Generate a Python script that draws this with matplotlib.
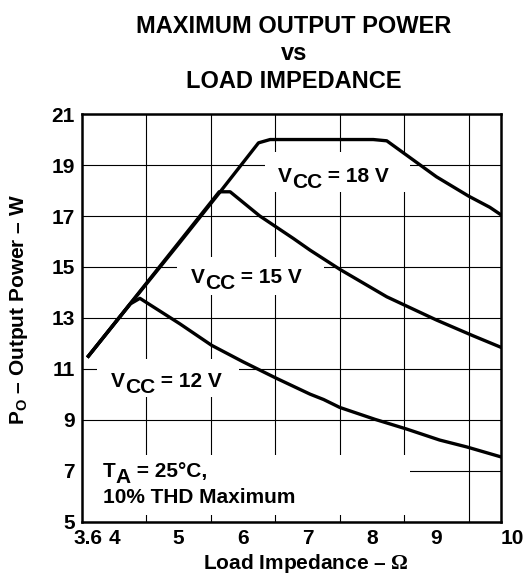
import numpy as np
import matplotlib
matplotlib.use('Agg')
import matplotlib.pyplot as plt
from matplotlib.patches import Rectangle

plt.rcParams['font.family'] = 'Liberation Sans'
plt.rcParams['font.weight'] = 'bold'
plt.rcParams['axes.labelweight'] = 'bold'
plt.rcParams['mathtext.fontset'] = 'custom'
plt.rcParams['mathtext.rm'] = 'Liberation Serif'
plt.rcParams['mathtext.bf'] = 'Liberation Sans:bold'

# maximum output power (W) vs load impedance (ohm), 10% THD
r_18v = [3.6, 4.25, 5.0, 5.63, 6.24, 6.42, 8.02, 8.23, 9.0, 9.5, 9.83, 10.0]
p_18v = [11.5, 13.55, 15.9, 17.9, 19.87, 20.0, 20.0, 19.95, 18.54, 17.78, 17.34, 17.05]

r_15v = [3.6, 5.63, 5.80, 6.26, 6.78, 7.04, 7.50, 8.23, 9.0, 9.57, 10.0]
p_15v = [11.5, 17.95, 17.95, 17.0, 16.12, 15.66, 14.91, 13.83, 12.92, 12.3, 11.85]

r_12v = [3.6, 4.25, 4.40, 5.02, 5.51, 6.0, 6.52, 7.04, 7.25, 7.50, 8.05, 8.54, 9.05, 9.47, 10.0]
p_12v = [11.5, 13.55, 13.77, 12.77, 11.93, 11.28, 10.63, 10.01, 9.80, 9.49, 9.02, 8.64, 8.21, 7.94, 7.55]

x_ticks = [3.6, 4, 5, 6, 7, 8, 9, 10]
x_tick_labels = ['3.6', '4', '5', '6', '7', '8', '9', '10']
y_ticks = [5, 7, 9, 11, 13, 15, 17, 19, 21]

fig = plt.figure(figsize=(5.25, 5.76), dpi=100)
ax = fig.add_axes([0.156, 0.094, 0.798, 0.708])

for r, p in [(r_18v, p_18v), (r_15v, p_15v), (r_12v, p_12v)]:
    ax.plot(r, p, color='black', lw=2.4, zorder=3, solid_joinstyle='round')

ax.set_xlim(3.5, 10)
ax.set_ylim(5, 21)
ax.set_xticks(x_ticks)
ax.set_xticklabels(x_tick_labels)
ax.get_xticklabels()[-1].set_ha('left')
ax.set_xticks(np.arange(4, 10.01, 0.5), minor=True)
ax.set_yticks(y_ticks)
ax.tick_params(which='both', length=0, labelsize=15, pad=5)

ax.set_axisbelow(True)
ax.grid(which='minor', axis='x', color='black', lw=0.8)
ax.grid(which='major', axis='y', color='black', lw=0.8)
for s in ax.spines.values():
    s.set_linewidth(1.8)

# blank out the grid behind the labels
for x0, x1, y0, y1 in [(6.34, 8.59, 17.95, 19.52), (4.97, 7.26, 13.9, 15.4),
                       (3.74, 5.94, 9.9, 11.4), (3.5, 8.59, 5.26, 7.62)]:
    ax.add_patch(Rectangle((x0, y0), x1 - x0, y1 - y0, facecolor='white',
                           edgecolor='none', zorder=1))


def sub_text(x, y, main, sub, rest, size=15):
    t = ax.text(x, y, main, fontsize=size, zorder=4)
    s = ax.annotate(sub, xy=(1, 0), xycoords=t, xytext=(0, -4.5),
                    textcoords='offset points', fontsize=size, va='bottom', zorder=4)
    ax.annotate(rest, xy=(1, 0), xycoords=s, xytext=(0, 4.5),
                textcoords='offset points', fontsize=size, va='bottom', zorder=4)


sub_text(6.54, 18.34, 'V', 'CC', ' = 18 V')
sub_text(5.19, 14.38, 'V', 'CC', ' = 15 V')
sub_text(3.95, 10.3, 'V', 'CC', ' = 12 V')
sub_text(3.83, 6.77, 'T', 'A', ' = 25°C,')
ax.text(3.83, 5.75, '10% THD Maximum', fontsize=15, zorder=4)

ax.set_xlabel(r'Load Impedance – $\Omega$', fontsize=15)
ax.xaxis.set_label_coords(0.535, -0.075)
ax.set_ylabel(r'$\mathbf{P_O}$ – Output Power – W', fontsize=15)
ax.yaxis.set_label_coords(-0.125, 0.52)

fig.text(294 / 525, 1 - 15 / 576, 'MAXIMUM OUTPUT POWER\nvs\nLOAD IMPEDANCE',
         ha='center', va='top', fontsize=17, linespacing=1.25)

fig.savefig('out.png', dpi=100)
